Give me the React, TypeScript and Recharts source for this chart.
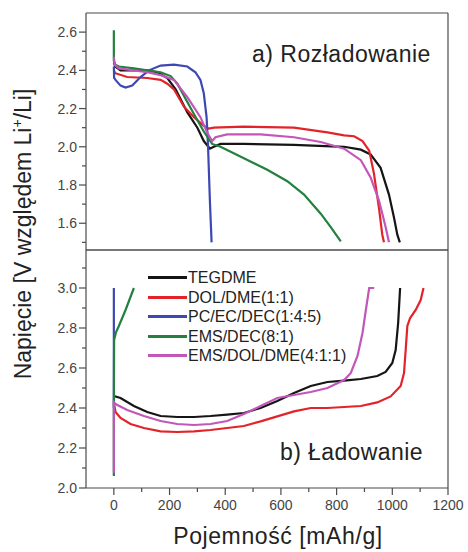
import React from 'react';
import { LineChart, Line, XAxis, YAxis, Legend } from 'recharts';

// capacity [mAh/g], voltage [V] pairs
const tegdmeDischarge = [[0, 2.44], [5, 2.42], [24, 2.4], [72, 2.4], [120, 2.4], [156, 2.39], [192, 2.36], [222, 2.3], [264, 2.18], [300, 2.1], [323, 2.03], [345, 1.99], [359, 2.0], [383, 2.015], [467, 2.015], [647, 2.01], [827, 2.0], [887, 1.985], [922, 1.96], [958, 1.89], [988, 1.75], [1006, 1.63], [1018, 1.54], [1027, 1.5]];
const dolDischarge = [[0, 2.4], [5, 2.385], [48, 2.365], [120, 2.36], [168, 2.35], [192, 2.33], [216, 2.3], [252, 2.21], [288, 2.155], [323, 2.11], [341, 2.095], [359, 2.1], [467, 2.105], [647, 2.1], [767, 2.075], [827, 2.06], [863, 2.055], [893, 2.03], [917, 1.98], [934, 1.86], [952, 1.68], [964, 1.54], [970, 1.5]];
const pcDischarge = [[0, 2.42], [1, 2.36], [6, 2.35], [24, 2.32], [42, 2.31], [66, 2.32], [96, 2.365], [126, 2.4], [168, 2.425], [216, 2.43], [264, 2.42], [293, 2.39], [311, 2.35], [323, 2.28], [333, 2.155], [338, 2.015], [345, 1.715], [351, 1.5]];
const emsDischarge = [[0, 2.61], [0, 2.45], [5, 2.43], [18, 2.42], [72, 2.41], [120, 2.4], [168, 2.39], [204, 2.37], [228, 2.33], [288, 2.17], [323, 2.08], [353, 2.015], [383, 2.0], [467, 1.94], [551, 1.88], [623, 1.82], [683, 1.75], [743, 1.65], [779, 1.58], [815, 1.505]];
const emsDolDischarge = [[0, 2.47], [3, 2.43], [18, 2.41], [120, 2.39], [168, 2.375], [216, 2.35], [264, 2.26], [311, 2.155], [335, 2.075], [353, 2.03], [365, 2.05], [407, 2.065], [527, 2.065], [647, 2.05], [743, 2.025], [827, 1.99], [887, 1.93], [922, 1.84], [952, 1.72], [976, 1.58], [988, 1.5]];

const tegdmeCharge = [[0, 2.46], [24, 2.45], [72, 2.41], [120, 2.38], [168, 2.36], [228, 2.355], [288, 2.355], [347, 2.36], [407, 2.367], [467, 2.375], [527, 2.4], [587, 2.435], [647, 2.475], [707, 2.51], [767, 2.53], [827, 2.537], [887, 2.545], [946, 2.56], [976, 2.58], [1000, 2.625], [1012, 2.69], [1021, 2.825], [1028, 3.0]];
const dolCharge = [[0, 2.425], [6, 2.38], [24, 2.35], [60, 2.32], [108, 2.3], [168, 2.283], [228, 2.28], [288, 2.283], [347, 2.29], [407, 2.3], [467, 2.31], [527, 2.333], [587, 2.358], [647, 2.383], [707, 2.4], [767, 2.4], [827, 2.405], [887, 2.41], [946, 2.428], [994, 2.458], [1030, 2.51], [1042, 2.575], [1048, 2.69], [1054, 2.81], [1064, 2.85], [1084, 2.89], [1102, 2.94], [1112, 3.0]];
const pcCharge = [[0, 2.4], [0, 3.0]];
const emsCharge = [[0, 2.06], [0, 2.45], [1, 2.74], [8, 2.78], [18, 2.81], [42, 2.89], [72, 3.0]];
const emsDolCharge = [[0, 2.075], [0, 2.43], [6, 2.42], [48, 2.39], [108, 2.36], [168, 2.335], [228, 2.32], [288, 2.315], [347, 2.32], [407, 2.335], [467, 2.37], [527, 2.41], [587, 2.45], [647, 2.465], [707, 2.48], [767, 2.5], [827, 2.54], [851, 2.575], [875, 2.66], [893, 2.775], [905, 2.89], [917, 3.0], [935, 3.0]];

const seriesNames = ['TEGDME', 'DOL/DME(1:1)', 'PC/EC/DEC(1:4:5)', 'EMS/DEC(8:1)', 'EMS/DOL/DME(4:1:1)'];
const seriesColors = ['#151515', '#e2242a', '#3d48b2', '#23803f', '#c257b9'];
const dischargeData = [tegdmeDischarge, dolDischarge, pcDischarge, emsDischarge, emsDolDischarge];
const chargeData = [tegdmeCharge, dolCharge, pcCharge, emsCharge, emsDolCharge];

const xTicks = [0, 100, 200, 300, 400, 500, 600, 700, 800, 900, 1000, 1100, 1200];
const topTicks = [1.5, 1.6, 1.7, 1.8, 1.9, 2.0, 2.1, 2.2, 2.3, 2.4, 2.5, 2.6];
const bottomTicks = [2.0, 2.1, 2.2, 2.3, 2.4, 2.5, 2.6, 2.7, 2.8, 2.9, 3.0, 3.1];

const font = '"Liberation Sans", Arial, sans-serif';
const axisColor = '#4a4a4a';
const xDomain = [-100, 1200];

const toPoints = (arr: number[][]) => arr.map(([x, v]) => ({ x, v }));

const YTick = ({ x, y, payload }: any) => {
  const major = Math.round(payload.value * 10) % 2 === 0;
  return (
    <g>
      <line x1={x - (major ? 7 : 4)} x2={x} y1={y} y2={y} stroke={axisColor} strokeWidth={1.2} />
      {major && (
        <text x={x - 9} y={y} dy={5} textAnchor="end" fontSize={14} fill="#444" fontFamily={font}>
          {payload.value.toFixed(1)}
        </text>
      )}
    </g>
  );
};

// tick marks hang below the axis line; labels only on the bottom axis
const XTick = ({ x, y, payload, showLabel }: any) => {
  const major = payload.value % 200 === 0;
  return (
    <g>
      <line x1={x} x2={x} y1={y} y2={y + (major ? 7 : 4)} stroke={axisColor} strokeWidth={1.2} />
      {showLabel && major && (
        <text x={x} y={y + 22} textAnchor="middle" fontSize={14} fill="#444" fontFamily={font}>
          {payload.value}
        </text>
      )}
    </g>
  );
};

const LegendBox = () => (
  <div style={{ fontFamily: font, fontSize: 16, color: '#222', lineHeight: '19.5px' }}>
    {seriesNames.map((name, i) => (
      <div key={name} style={{ display: 'flex', alignItems: 'center', whiteSpace: 'nowrap' }}>
        <span style={{ width: 39, borderTop: `3px solid ${seriesColors[i]}`, marginRight: 1 }} />
        {name}
      </div>
    ))}
  </div>
);

const renderLines = (sets: number[][][]) =>
  sets.map((set, i) => (
    <Line
      key={seriesNames[i]}
      data={toPoints(set)}
      dataKey="v"
      name={seriesNames[i]}
      type="linear"
      stroke={seriesColors[i]}
      strokeWidth={2.2}
      dot={false}
      isAnimationActive={false}
    />
  ));

export default function App() {
  return (
    <div style={{ position: 'absolute', left: 0, top: 0, width: 468, height: 552, background: '#fff', fontFamily: font }}>
      <div style={{ position: 'absolute', left: 0, top: 0 }}>
        <LineChart width={468} height={251} margin={{ top: 12, right: 19, left: 0, bottom: 0 }}>
          <XAxis dataKey="x" type="number" domain={xDomain} ticks={xTicks} interval={0} allowDataOverflow
            height={1} tick={false} tickLine={false} stroke={axisColor} strokeWidth={1.2} />
          <XAxis xAxisId="frame" orientation="top" type="number" domain={xDomain} height={1}
            tick={false} tickLine={false} stroke={axisColor} strokeWidth={1.2} />
          <YAxis type="number" domain={[1.46, 2.7]} ticks={topTicks} interval={0} allowDataOverflow width={86}
            tickSize={0} tickMargin={0} tickLine={false} stroke={axisColor} strokeWidth={1.2} tick={<YTick />} />
          <YAxis yAxisId="frame" orientation="right" width={1} tick={false} tickLine={false}
            stroke={axisColor} strokeWidth={1.2} />
          {renderLines(dischargeData)}
        </LineChart>
      </div>
      <div style={{ position: 'absolute', left: 0, top: 249 }}>
        <LineChart width={468} height={303} margin={{ top: 0, right: 19, left: 0, bottom: 0 }}>
          <XAxis dataKey="x" type="number" domain={xDomain} ticks={xTicks} interval={0} allowDataOverflow
            height={64} tickSize={0} tickMargin={0} tickLine={false} stroke={axisColor} strokeWidth={1.2}
            tick={<XTick showLabel />} />
          <XAxis xAxisId="sep" orientation="top" type="number" domain={xDomain} ticks={xTicks} interval={0}
            height={1} tickSize={0} tickMargin={0} tickLine={false} stroke={axisColor} strokeWidth={1.2}
            tick={<XTick showLabel={false} />} />
          <YAxis type="number" domain={[2.0, 3.19]} ticks={bottomTicks} interval={0} allowDataOverflow width={86}
            tickSize={0} tickMargin={0} tickLine={false} stroke={axisColor} strokeWidth={1.2} tick={<YTick />} />
          <YAxis yAxisId="frame" orientation="right" width={1} tick={false} tickLine={false}
            stroke={axisColor} strokeWidth={1.2} />
          <Legend layout="vertical" align="center" verticalAlign="middle" content={<LegendBox />}
            wrapperStyle={{ left: 148, top: 19, width: 'auto', height: 'auto' }} />
          {renderLines(chargeData)}
        </LineChart>
      </div>
      <div style={{ position: 'absolute', left: 252, top: 41, fontSize: 23, letterSpacing: 0.5, color: '#222', whiteSpace: 'nowrap' }}>
        a) Rozładowanie
      </div>
      <div style={{ position: 'absolute', left: 280, top: 439, fontSize: 23, letterSpacing: 0.4, color: '#222', whiteSpace: 'nowrap' }}>
        b) Ładowanie
      </div>
      <div style={{ position: 'absolute', left: 278, top: 536, transform: 'translate(-50%, -50%)', fontSize: 23, letterSpacing: 0.6, color: '#222', whiteSpace: 'nowrap' }}>
        Pojemność [mAh/g]
      </div>
      <div style={{ position: 'absolute', left: 23, top: 234, transform: 'translate(-50%, -50%) rotate(-90deg)', fontSize: 23, color: '#222', whiteSpace: 'nowrap' }}>
        Napięcie [V względem Li<sup style={{ fontSize: 14 }}>+</sup>/Li]
      </div>
    </div>
  );
}
